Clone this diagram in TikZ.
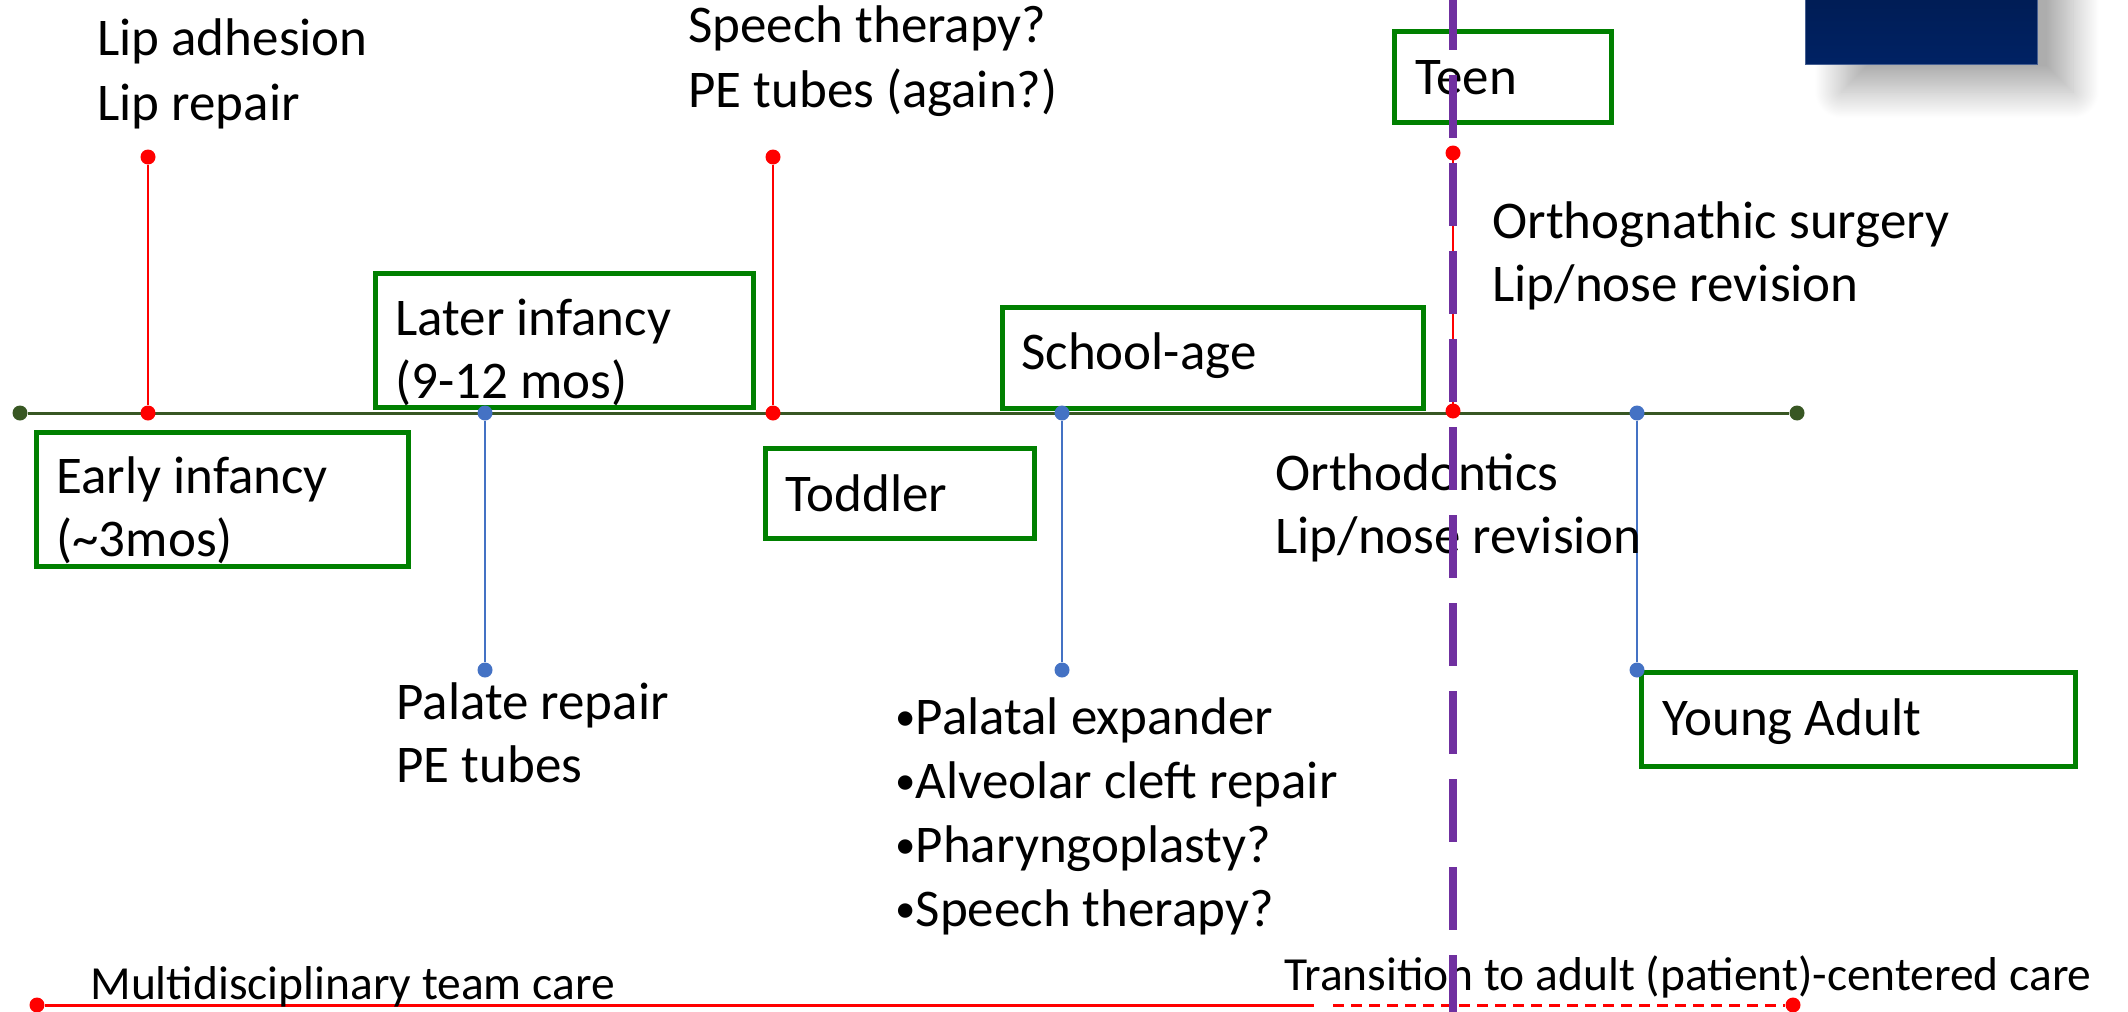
\documentclass[tikz,border=0pt]{standalone}
\usepackage{fontspec}
\setmainfont{Carlito}
\usetikzlibrary{shadows.blur}
\definecolor{boxgreen}{RGB}{0,128,0}
\definecolor{tlgreen}{RGB}{56,87,35}
\definecolor{stemred}{RGB}{255,0,0}
\definecolor{stemblue}{RGB}{68,114,196}
\definecolor{tpurple}{RGB}{112,48,160}
\definecolor{navytop}{RGB}{0,24,72}
\definecolor{navybot}{RGB}{0,34,100}
\definecolor{navyedge}{RGB}{70,95,145}
\newcommand{\mybul}{\raisebox{2pt}{\fontsize{20.4}{20}\selectfont •}}
\tikzset{
  txt/.style={anchor=base west, inner sep=0pt, yshift=-1.5pt, font=\fontsize{26.5}{31.5}\selectfont},
  smalltxt/.style={anchor=base west, inner sep=0pt, yshift=-1pt, font=\fontsize{23.75}{28}\selectfont},
  gbox/.style={draw=boxgreen, line width=2.5pt, rectangle, inner sep=0pt},
  rdot/.style={circle, fill=stemred, inner sep=0pt, minimum size=7.5pt},
  bdot/.style={circle, fill=stemblue, inner sep=0pt, minimum size=7.5pt},
  gdot/.style={circle, fill=tlgreen, inner sep=0pt, minimum size=7.5pt},
  redstem/.style={draw=stemred, line width=1pt},
  bluestem/.style={draw=stemblue, line width=1pt},
  tline/.style={draw=tlgreen, line width=1.5pt},
  careline/.style={draw=stemred, line width=1.5pt},
  purpleline/.style={draw=tpurple, line width=4pt, dash pattern=on 31.5pt off 12.5pt},
}
\begin{document}
\begin{tikzpicture}[x=0.5pt, y=-0.5pt]
\useasboundingbox (0,0) rectangle (2128,1011);

% navy box with shadow
\node[rectangle, inner sep=0pt, minimum width=116pt, minimum height=62pt,
      top color=navytop, bottom color=navybot, draw=navyedge, line width=0.4pt,
      blur shadow={shadow xshift=18pt, shadow yshift=-14pt, shadow blur radius=13pt,
                   shadow blur steps=40, shadow opacity=32}]
      (navy) at (1921,2) {};

% green stage boxes
\node[gbox, minimum width=186pt, minimum height=67pt] (early) at (222,499) {};
\node[gbox, minimum width=189pt, minimum height=67pt] (later) at (564,340) {};
\node[gbox, minimum width=134.5pt, minimum height=45pt] (toddler) at (899.5,493) {};
\node[gbox, minimum width=210.5pt, minimum height=50.5pt] (school) at (1212.5,357.5) {};
\node[gbox, minimum width=108.5pt, minimum height=45pt] (teen) at (1502.5,77) {};
\node[gbox, minimum width=217pt, minimum height=47pt] (young) at (1858,719) {};

% timeline
\node[gdot] (tlL) at (20,413) {};
\node[gdot] (tlR) at (1797,413) {};
\draw[tline] (tlL) -- (tlR);

% stems
\node[rdot] (ladT) at (148,157) {};
\node[rdot] (ladB) at (148,413) {};
\draw[redstem] (ladT) -- (ladB);

\node[rdot] (spT) at (773,157) {};
\node[rdot] (spB) at (773,413) {};
\draw[redstem] (spT) -- (spB);

\node[bdot] (palT) at (485,413) {};
\node[bdot] (palB) at (485,670) {};
\draw[bluestem] (palT) -- (palB);

\node[bdot] (schT) at (1062,413) {};
\node[bdot] (schB) at (1062,670) {};
\draw[bluestem] (schT) -- (schB);

\node[bdot] (yaT) at (1637,413) {};
\node[bdot] (yaB) at (1637,670) {};
\draw[bluestem] (yaT) -- (yaB);

\coordinate (teenStemT) at (1453,153);
\coordinate (teenStemB) at (1453,411);
\draw[redstem] (teenStemT) -- (teenStemB);

% bottom care line
\node[rdot] (careL) at (37,1005) {};
\node[rdot] (careR) at (1793,1005) {};
\coordinate (careS) at (1314,1005);
\coordinate (careD) at (1333,1005);
\draw[careline] (careL) -- (careS);
\draw[careline, dash pattern=on 5.5pt off 3.5pt] (careD) -- (careR);

% texts
\node[txt] (t1a) at (97,53) {Lip adhesion};
\node[txt] (t1b) at (97,117) {Lip repair};
\node[txt] (t2a) at (688,40) {Speech therapy?};
\node[txt] (t2b) at (688,104) {PE tubes (again?)};
\node[txt] (earlyA) at (56,490) {Early infancy};
\node[txt] (earlyB) at (56,553) {(\textasciitilde3mos)};
\node[txt] (laterA) at (395,332) {Later infancy};
\node[txt] (laterB) at (395,395) {(9-12 mos)};
\node[txt] (palA) at (396,716) {Palate repair};
\node[txt] (palB2) at (396,779) {PE tubes};
\node[txt] (todT) at (785,508) {Toddler};
\node[txt] (schTxt) at (1021,366) {School-age};
\node[txt] (b1) at (895,731) {\mybul Palatal expander};
\node[txt] (b2) at (895,795) {\mybul Alveolar cleft repair};
\node[txt] (b3) at (895,859) {\mybul Pharyngoplasty?};
\node[txt] (b4) at (895,923) {\mybul Speech therapy?};
\node[txt] (orA) at (1275,487) {Orthodontics};
\node[txt] (orB) at (1275,550) {Lip/nose revision};
\node[txt] (teenT) at (1415,92) {Teen};
\node[txt] (ogA) at (1492,235) {Orthognathic surgery};
\node[txt] (ogB) at (1492,298) {Lip/nose revision};
\node[txt] (yaTxt) at (1662,732) {Young Adult};
\node[smalltxt] (mdt) at (90,997) {Multidisciplinary team care};
\node[smalltxt] (trn) at (1284,988) {Transition to adult (patient)-centered care};

% purple transition line
\coordinate (pTop) at (1453,-13);
\coordinate (pBot) at (1453,1040);
\draw[purpleline] (pTop) -- (pBot);

% red dots on top of purple line
\node[rdot] (teenDotT) at (1453,153) {};
\node[rdot] (teenDotB) at (1453,411) {};
\end{tikzpicture}
\end{document}
